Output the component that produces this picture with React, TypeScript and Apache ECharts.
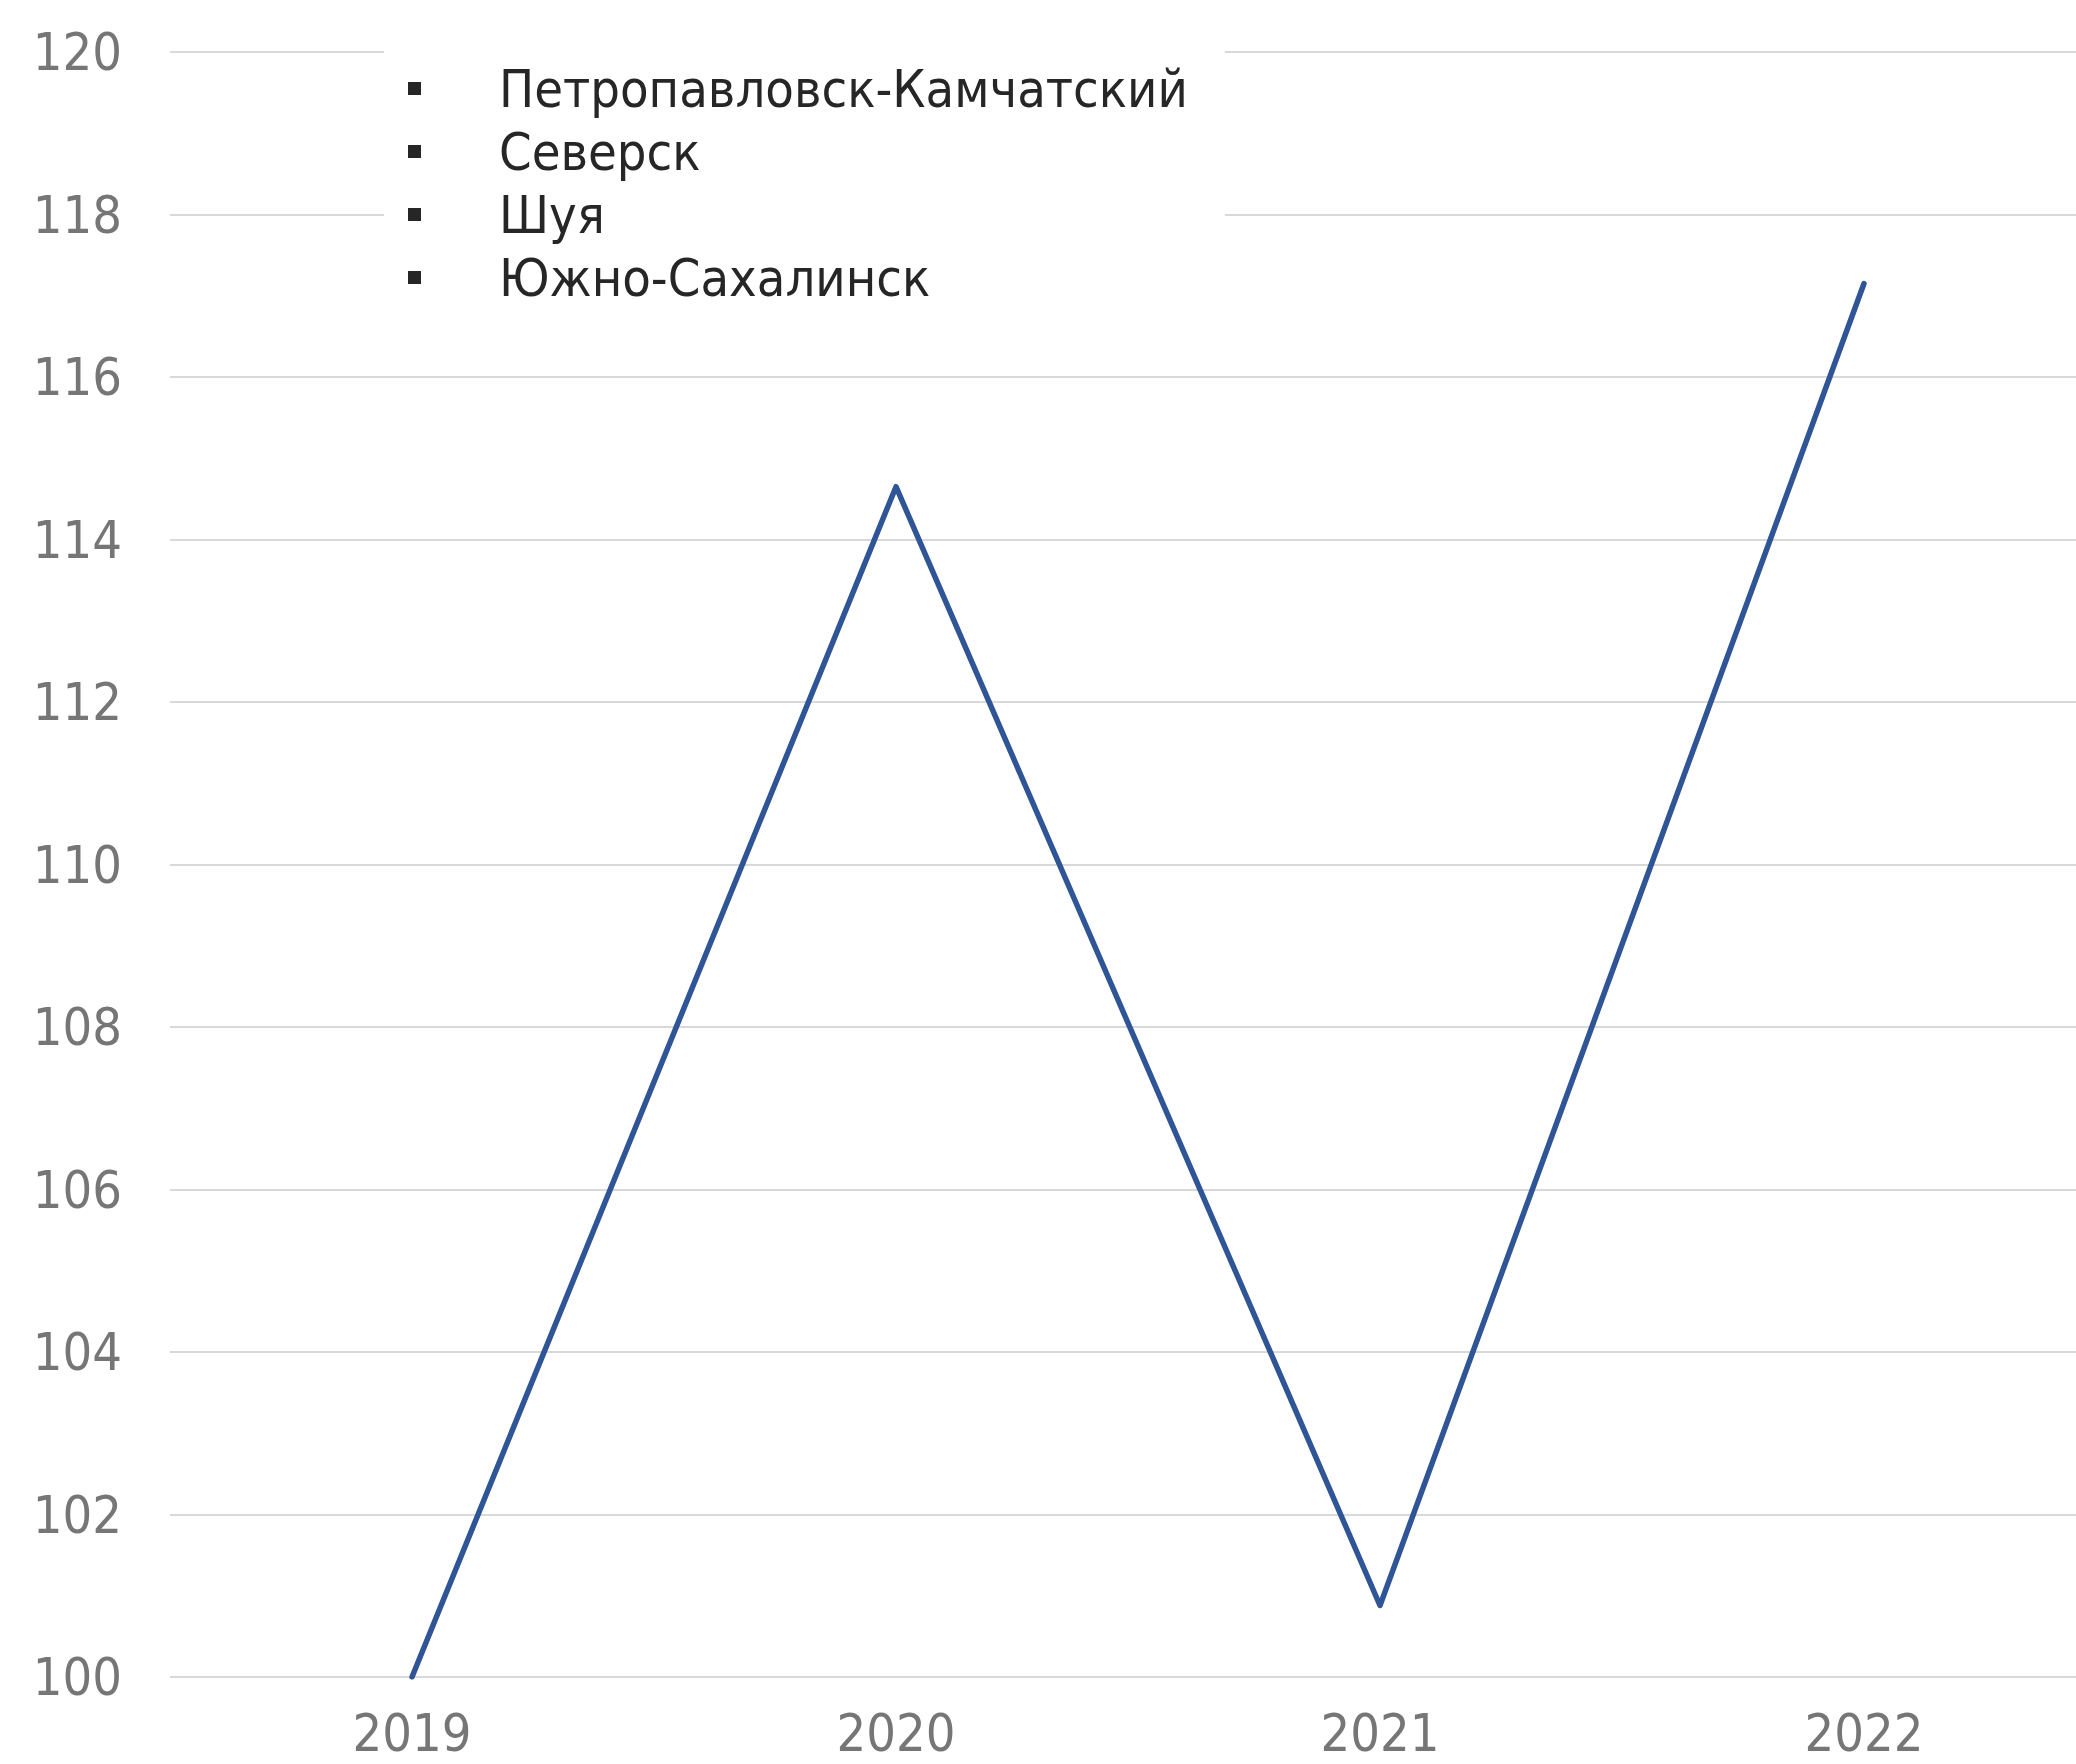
import React, { useEffect, useRef } from "react";
import * as echarts from "echarts";

const categories = ["2019", "2020", "2021", "2022"];
const seriesNames = ["Петропавловск-Камчатский", "Северск", "Шуя", "Южно-Сахалинск"];
const petropavlovsk = [100, 114.65, 100.88, 117.15];
const seversk: (number | null)[] = [null, null, null, null];
const shuya: (number | null)[] = [null, null, null, null];
const yuzhno: (number | null)[] = [null, null, null, null];
const yMin = 100;
const yMax = 120;
const yStep = 2;

const FONT = "'DejaVu Sans Condensed', 'Liberation Sans Narrow', sans-serif";

export default function App() {
  const ref = useRef<HTMLDivElement>(null);
  useEffect(() => {
    document.body.style.margin = "0";
    document.body.style.overflow = "hidden";
    const chart = echarts.init(ref.current!, null, { renderer: "svg" });
    const dataSets = [petropavlovsk, seversk, shuya, yuzhno];
    chart.setOption({
      animation: false,
      backgroundColor: "#ffffff",
      grid: { left: 170, right: 0, top: 52, bottom: 87, containLabel: false },
      legend: {
        orient: "vertical",
        left: 384,
        top: 30,
        padding: [27, 37, 27, 24],
        backgroundColor: "#ffffff",
        itemWidth: 13,
        itemHeight: 13,
        itemGap: 0,
        icon: "rect",
        itemStyle: { color: "#262626" },
        textStyle: {
          fontFamily: FONT,
          fontSize: 52,
          color: "#262626",
          lineHeight: 63,
          padding: [0, 0, 0, 73],
        },
        data: seriesNames,
      },
      xAxis: {
        type: "category",
        data: categories,
        boundaryGap: true,
        axisLine: { show: false },
        axisTick: { show: false },
        axisLabel: { fontFamily: FONT, fontSize: 52, lineHeight: 52, color: "#767676", margin: 30 },
      },
      yAxis: {
        type: "value",
        min: yMin,
        max: yMax,
        interval: yStep,
        axisLine: { show: false },
        axisTick: { show: false },
        axisLabel: { fontFamily: FONT, fontSize: 52, color: "#767676", margin: 48 },
        splitLine: { lineStyle: { color: "#d9d9d9", width: 2 } },
      },
      series: seriesNames.map((name, i) => ({
        name,
        type: "line",
        data: dataSets[i],
        showSymbol: false,
        symbol: "none",
        lineStyle: { color: "#2f5597", width: 5.5, cap: "round", join: "round" },
        itemStyle: { color: "#2f5597" },
      })),
    });
    return () => chart.dispose();
  }, []);
  return (
    <div style={{ width: 2076, height: 1764, overflow: "hidden", position: "relative" }}>
      <div ref={ref} style={{ width: 2106, height: 1764 }} />
    </div>
  );
}
